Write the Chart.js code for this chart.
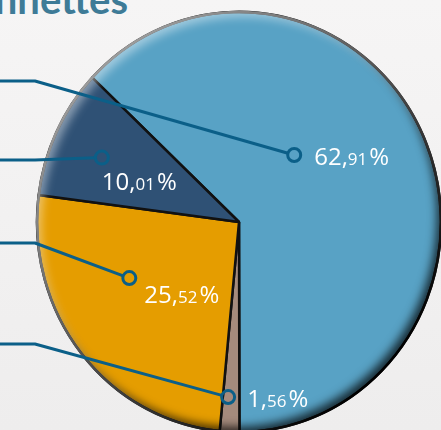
<!DOCTYPE html>
<html>
<head>
<meta charset="utf-8">
<script src="https://cdn.jsdelivr.net/npm/chart.js@4/dist/chart.umd.min.js"></script>
<style>
  html, body { margin: 0; padding: 0; }
  body {
    width: 441px; height: 430px; overflow: hidden; position: relative;
    background: linear-gradient(#f6f5f5, #eeeded);
  }
  #title {
    position: absolute; right: 313px; top: -25px;
    font: bold 40px Lato, "Open Sans", sans-serif; line-height: 48px;
    color: #3e7b97; white-space: nowrap;
  }
  #chart_container { position: absolute; left: 0; top: 0; width: 441px; height: 430px; }
</style>
</head>
<body>
<div id="title">Marionnettes</div>
<div id="chart_container"><canvas id="myChart" width="441" height="430"></canvas></div>
<script>
// data
const categories = ['Catégorie A', 'Catégorie B', 'Catégorie C', 'Catégorie D'];
const shares = [62.91, 1.56, 25.52, 10.01];
const sliceColors = ['#58a2c5', '#a58b7d', '#e59d00', '#2f5175'];

// where the leader marker sits in each slice (t = along the arc, f = along the radius)
const markerAt = [{t: 0.385, f: 0.42}, {t: 0.68, f: 0.835}, {t: 0.635, f: 0.605}, {t: 0.47, f: 0.745}];
const lineStartY = [81, 344, 243, 160];
const labelOffset = [[20, 10], [19, 10], [15, 25], [0, 32]];

const lineColor = '#0b5f88';
const stretchY = 1.04; // the pie is a bit taller than wide

function drawPct(ctx, v, x, y) {
  const parts = v.toFixed(2).split('.');
  ctx.fillStyle = '#ffffff';
  ctx.textAlign = 'left';
  ctx.textBaseline = 'alphabetic';
  ctx.font = '24px "Open Sans"';
  ctx.fillText(parts[0] + ',', x, y);
  x += ctx.measureText(parts[0] + ',').width;
  ctx.font = '17px "Open Sans"';
  ctx.fillText(parts[1], x, y);
  x += ctx.measureText(parts[1]).width + 2;
  ctx.font = '24px "Open Sans"';
  ctx.fillText('%', x, y);
}

const pieDeco = {
  id: 'pieDeco',
  beforeDatasetsDraw(chart) {
    const ctx = chart.ctx;
    const cy = chart.getDatasetMeta(0).data[0].y;
    ctx.save();
    ctx.translate(0, cy);
    ctx.scale(1, stretchY);
    ctx.translate(0, -cy);
  },
  afterDatasetsDraw(chart) {
    const ctx = chart.ctx;
    ctx.restore();
    const arcs = chart.getDatasetMeta(0).data;
    const {x, y, outerRadius} = arcs[0].getProps(['x', 'y', 'outerRadius'], true);
    const R = outerRadius;
    const RY = R * stretchY;

    // bevel: dark rim bottom right, light rim top left
    ctx.save();
    ctx.beginPath();
    ctx.ellipse(x, y, R, RY, 0, 0, Math.PI * 2);
    ctx.clip();
    ctx.beginPath();
    ctx.rect(-2000, -2000, 5000, 5000);
    ctx.ellipse(x, y, R + 1, RY + 1, 0, 0, Math.PI * 2, true);
    ctx.fillStyle = '#000';
    ctx.shadowBlur = 10;
    ctx.shadowColor = 'rgba(0,0,0,0.75)';
    ctx.shadowOffsetX = -5;
    ctx.shadowOffsetY = -6;
    ctx.fill('evenodd');
    ctx.shadowColor = 'rgba(255,255,255,0.45)';
    ctx.shadowOffsetX = 5;
    ctx.shadowOffsetY = 6;
    ctx.fill('evenodd');
    ctx.restore();

    // outer rim
    ctx.save();
    const g = ctx.createLinearGradient(x - R * 0.7, y - RY * 0.7, x + R * 0.7, y + RY * 0.7);
    g.addColorStop(0, '#9b9b9b');
    g.addColorStop(0.45, '#555555');
    g.addColorStop(1, '#000000');
    ctx.strokeStyle = g;
    ctx.lineWidth = 2.5;
    ctx.beginPath();
    ctx.ellipse(x, y, R, RY, 0, 0, Math.PI * 2);
    ctx.stroke();
    ctx.restore();

    // leader lines, markers and labels
    ctx.save();
    arcs.forEach((arc, i) => {
      const p = arc.getProps(['startAngle', 'endAngle'], true);
      const a = p.startAngle + (p.endAngle - p.startAngle) * markerAt[i].t;
      const mx = x + Math.cos(a) * R * markerAt[i].f;
      const my = y + Math.sin(a) * RY * markerAt[i].f;
      const r = 6.5;
      const d = Math.hypot(mx - 35, my - lineStartY[i]);
      ctx.strokeStyle = lineColor;
      ctx.lineWidth = 3;
      ctx.lineJoin = 'round';
      ctx.beginPath();
      ctx.moveTo(0, lineStartY[i]);
      ctx.lineTo(35, lineStartY[i]);
      ctx.lineTo(mx - (mx - 35) / d * r, my - (my - lineStartY[i]) / d * r);
      ctx.stroke();
      ctx.beginPath();
      ctx.arc(mx, my, r, 0, Math.PI * 2);
      ctx.stroke();
      drawPct(ctx, shares[i], mx + labelOffset[i][0], my + labelOffset[i][1]);
    });
    ctx.restore();
  }
};

const ctx = document.getElementById('myChart').getContext('2d');
const myChart = new Chart(ctx, {
  type: 'pie',
  data: {
    labels: categories,
    datasets: [{
      data: shares,
      backgroundColor: sliceColors,
      borderColor: '#111111',
      borderWidth: 2.5
    }]
  },
  options: {
    responsive: false,
    animation: false,
    rotation: -46.6,
    radius: 202,
    layout: { padding: { left: 37, top: 14, right: 0, bottom: 0 } },
    plugins: {
      legend: { display: false },
      tooltip: { enabled: false }
    }
  },
  plugins: [pieDeco]
});
</script>
</body>
</html>
